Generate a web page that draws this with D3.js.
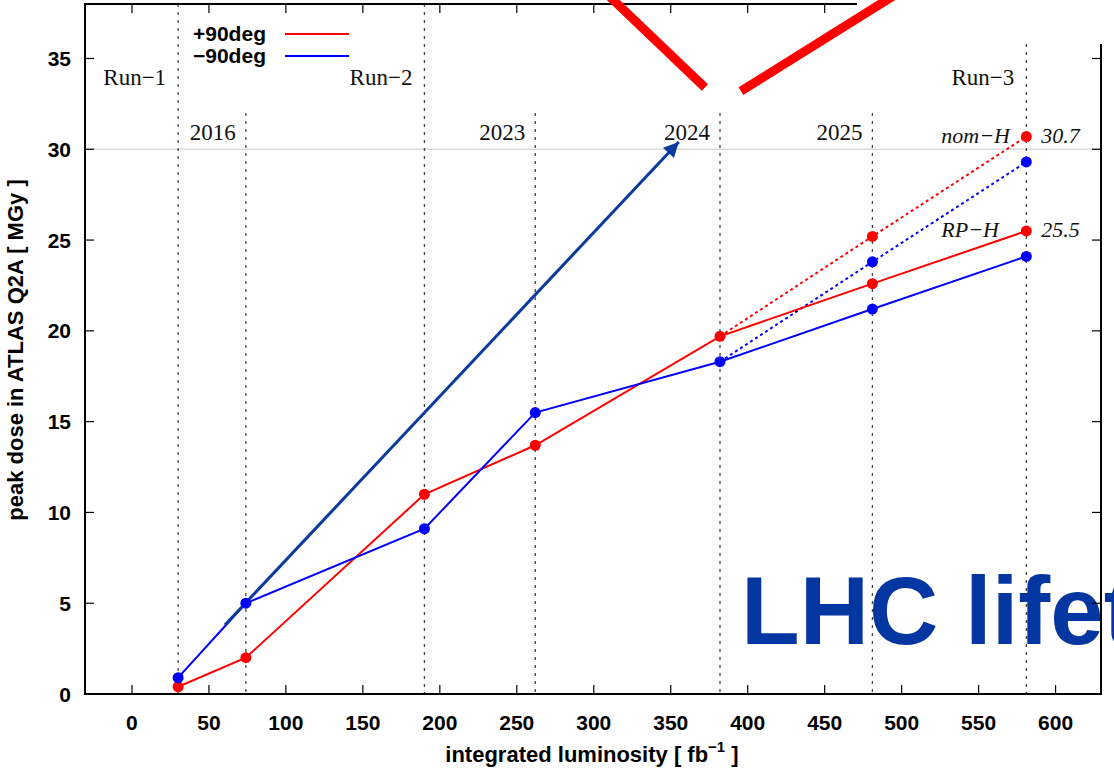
<!DOCTYPE html>
<html>
<head>
<meta charset="utf-8">
<script src="https://cdn.jsdelivr.net/npm/d3@7"></script>
<style>
  html, body { margin: 0; padding: 0; background: #fff; overflow: hidden; }
  svg { display: block; }
  .tick-label { font-family: "Liberation Sans", Arial, sans-serif; font-weight: bold; font-size: 21px; fill: #000; }
  .axis-title { font-family: "Liberation Sans", Arial, sans-serif; font-weight: bold; font-size: 22px; fill: #000; }
  .serif { font-family: "Liberation Serif", "Times New Roman", serif; font-size: 23px; fill: #111; }
  .serif-it { font-family: "Liberation Serif", "Times New Roman", serif; font-style: italic; font-size: 22px; fill: #111; }
</style>
</head>
<body>
<script>
// Integrated luminosity (fb^-1) at the end of each period
const lumi = [30, 74, 190, 262, 382, 481, 581];
// Peak dose in ATLAS Q2A (MGy), RP-H scenario
const dosePlus90 = [0.4, 2.0, 11.0, 13.7, 19.7, 22.6, 25.5];
const doseMinus90 = [0.9, 5.0, 9.1, 15.5, 18.3, 21.2, 24.1];
// nom-H scenario branch from 2024 onwards
const nomLumi = [382, 481, 581];
const nomPlus90 = [19.7, 25.2, 30.7];
const nomMinus90 = [18.3, 23.8, 29.3];

// Period markers
const runBounds = [30, 190, 581];
const runLabels = ["Run\u22121", "Run\u22122", "Run\u22123"];
const yearBounds = [74, 262, 382, 481];
const yearLabels = ["2016", "2023", "2024", "2025"];

const xTicks = [0, 50, 100, 150, 200, 250, 300, 350, 400, 450, 500, 550, 600];
const yTicks = [0, 5, 10, 15, 20, 25, 30, 35];

const seriesNames = ["+90deg", "\u221290deg"];
const seriesColors = ["#ff0000", "#0000ff"];

// Trend arrow and strike-through mark, in data units
const trendArrow = [[60.4, 3.8], [355.2, 30.4]];
const strikeLeft = [[305.5, 38.8], [372.2, 33.4]];
const strikeRight = [[395.6, 33.2], [501.3, 38.8]];

const W = 1114, H = 771;
const L = 85, R = 1101, T = 4, B = 694;

const svg = d3.select("body").append("svg").attr("width", W).attr("height", H);

const x = d3.scaleLinear().domain([-30.5, 629.5]).range([L, R]);
const y = d3.scaleLinear().domain([0, 38]).range([B, T]);

// reference line at 30 MGy
svg.append("line")
  .attr("x1", L).attr("x2", R).attr("y1", y(30)).attr("y2", y(30))
  .attr("stroke", "#d9d9d9").attr("stroke-width", 1.6);

// period separators
const dotStyle = sel => sel.attr("stroke", "#444").attr("stroke-width", 1.3).attr("stroke-dasharray", "3,5");
svg.selectAll(".runline").data(runBounds).join("line")
  .attr("x1", d => x(d)).attr("x2", d => x(d)).attr("y1", T).attr("y2", B).call(dotStyle);
svg.selectAll(".yearline").data(yearBounds).join("line")
  .attr("x1", d => x(d)).attr("x2", d => x(d)).attr("y1", y(32)).attr("y2", B).call(dotStyle);

svg.selectAll(".runlabel").data(runBounds).join("text")
  .attr("class", "serif").attr("text-anchor", "end")
  .attr("x", d => x(d) - 12).attr("y", 85)
  .text((d, i) => runLabels[i]);
svg.selectAll(".yearlabel").data(yearBounds).join("text")
  .attr("class", "serif").attr("text-anchor", "end")
  .attr("x", d => x(d) - 10).attr("y", y(32) + 27)
  .text((d, i) => yearLabels[i]);

// overlay title
svg.append("text")
  .attr("x", 741).attr("y", 644)
  .attr("font-family", "Liberation Sans, Arial, sans-serif")
  .attr("font-weight", "bold").attr("font-size", 96)
  .attr("fill", "#0336a0")
  .text("LHC lifetime");

// data lines
const line = d3.line().x(d => x(d[0])).y(d => y(d[1]));
const solid = [dosePlus90, doseMinus90];
const nom = [nomPlus90, nomMinus90];

nom.forEach((vals, i) => {
  svg.append("path")
    .attr("d", line(nomLumi.map((l, k) => [l, vals[k]])))
    .attr("fill", "none").attr("stroke", seriesColors[i])
    .attr("stroke-width", 2).attr("stroke-dasharray", "3,3");
});
solid.forEach((vals, i) => {
  svg.append("path")
    .attr("d", line(lumi.map((l, k) => [l, vals[k]])))
    .attr("fill", "none").attr("stroke", seriesColors[i]).attr("stroke-width", 2);
});

// trend arrow
svg.append("defs").append("marker")
  .attr("id", "head").attr("viewBox", "0 0 10 10")
  .attr("refX", 10).attr("refY", 5)
  .attr("markerWidth", 6).attr("markerHeight", 5)
  .attr("markerUnits", "strokeWidth")
  .attr("orient", "auto")
  .append("path").attr("d", "M0,0 L10,5 L0,10 z").attr("fill", "#0a3a9c");
svg.append("path")
  .attr("d", line(trendArrow))
  .attr("stroke", "#0a3a9c").attr("stroke-width", 3).attr("fill", "none")
  .attr("marker-end", "url(#head)");

// points
nom.forEach((vals, i) => {
  svg.selectAll(null).data(nomLumi.slice(1)).join("circle")
    .attr("cx", d => x(d)).attr("cy", (d, k) => y(vals[k + 1]))
    .attr("r", 5.5).attr("fill", seriesColors[i]);
});
solid.forEach((vals, i) => {
  svg.selectAll(null).data(lumi).join("circle")
    .attr("cx", d => x(d)).attr("cy", (d, k) => y(vals[k]))
    .attr("r", 5.5).attr("fill", seriesColors[i]);
});

// scenario labels and end values
const lastIdx = lumi.length - 1;
const endLabels = [
  { name: "nom\u2212H", v: nomPlus90[nomPlus90.length - 1] },
  { name: "RP\u2212H", v: dosePlus90[lastIdx] }
];
endLabels.forEach(e => {
  svg.append("text").attr("class", "serif-it")
    .attr("x", x(lumi[lastIdx]) - 85).attr("y", y(e.v) + 6).text(e.name);
  svg.append("text").attr("class", "serif-it")
    .attr("x", x(lumi[lastIdx]) + 15).attr("y", y(e.v) + 6).text(e.v.toFixed(1));
});

// frame and ticks
const frame = svg.append("g").attr("stroke", "#000");
frame.append("path")
  .attr("d", `M${R},${T}H${L}V${B}H${R}Z`)
  .attr("fill", "none").attr("stroke-width", 2);
const tk = 9;
xTicks.forEach(v => {
  frame.append("line").attr("x1", x(v)).attr("x2", x(v)).attr("y1", B).attr("y2", B - tk).attr("stroke-width", 1.2);
  frame.append("line").attr("x1", x(v)).attr("x2", x(v)).attr("y1", T).attr("y2", T + tk).attr("stroke-width", 1.2);
});
yTicks.forEach(v => {
  frame.append("line").attr("x1", L).attr("x2", L + tk).attr("y1", y(v)).attr("y2", y(v)).attr("stroke-width", 1.2);
  frame.append("line").attr("x1", R).attr("x2", R - tk).attr("y1", y(v)).attr("y2", y(v)).attr("stroke-width", 1.2);
});

svg.selectAll(".xt").data(xTicks).join("text")
  .attr("class", "tick-label").attr("text-anchor", "middle")
  .attr("x", d => x(d)).attr("y", 730).text(d => d);
svg.selectAll(".yt").data(yTicks).join("text")
  .attr("class", "tick-label").attr("text-anchor", "end")
  .attr("x", 71).attr("y", d => y(d)).attr("dy", "0.36em").text(d => d);

// axis titles
const xt = svg.append("text").attr("class", "axis-title")
  .attr("text-anchor", "middle").attr("x", 592).attr("y", 762);
xt.append("tspan").text("integrated luminosity [ fb");
xt.append("tspan").attr("font-size", 15).attr("dy", -10).text("\u22121");
xt.append("tspan").attr("dy", 10).text(" ]");

svg.append("text").attr("class", "axis-title")
  .attr("text-anchor", "middle")
  .attr("transform", "translate(23,350) rotate(-90)")
  .text("peak dose in ATLAS Q2A [ MGy ]");

// legend
seriesNames.forEach((n, i) => {
  svg.append("text")
    .attr("font-family", "Liberation Sans, Arial, sans-serif")
    .attr("font-weight", "bold").attr("font-size", 21)
    .attr("x", 193).attr("y", 41 + i * 22).text(n);
  svg.append("line")
    .attr("x1", 285).attr("x2", 349).attr("y1", 34 + i * 22).attr("y2", 34 + i * 22)
    .attr("stroke", seriesColors[i]).attr("stroke-width", 1.8);
});

// blank patch in the top-right corner
svg.append("rect").attr("x", 857).attr("y", 0).attr("width", W - 857).attr("height", 44).attr("fill", "#fff");

// red strike mark
[strikeLeft, strikeRight].forEach(seg => {
  svg.append("path").attr("d", line(seg))
    .attr("stroke", "#ff0000").attr("stroke-width", 9).attr("fill", "none");
});
</script>
</body>
</html>
